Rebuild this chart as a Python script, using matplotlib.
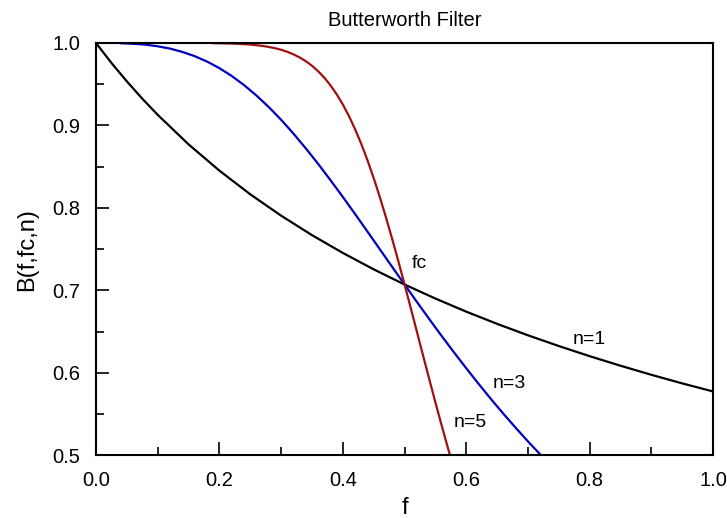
import matplotlib
matplotlib.use('Agg')
import matplotlib.pyplot as plt
from matplotlib.ticker import MultipleLocator

plt.rcParams['font.family'] = ['Liberation Sans', 'DejaVu Sans']

# values
f_n1 = [0.0, 0.025, 0.05, 0.075, 0.1, 0.15, 0.2, 0.25, 0.3, 0.35, 0.4, 0.45, 0.5,
        0.55, 0.6, 0.65, 0.7, 0.75, 0.8, 0.85, 0.9, 0.95, 1.0]
b_n1 = [1.0, 0.9759, 0.9535, 0.9325, 0.9129, 0.8771, 0.8452, 0.8165, 0.7906, 0.7670,
        0.7454, 0.7255, 0.7071, 0.6901, 0.6742, 0.6594, 0.6455, 0.6325, 0.6202,
        0.6086, 0.5976, 0.5872, 0.5774]

f_n3 = [0.04, 0.06, 0.08, 0.10, 0.12, 0.14, 0.16, 0.18, 0.20, 0.22, 0.24, 0.26,
        0.28, 0.30, 0.32, 0.34, 0.36, 0.38, 0.40, 0.42, 0.44, 0.46, 0.48, 0.50,
        0.52, 0.54, 0.56, 0.58, 0.60, 0.62, 0.64, 0.66, 0.68, 0.70, 0.72]
b_n3 = [0.9997, 0.9991, 0.9980, 0.9960, 0.9932, 0.9892, 0.9840, 0.9775, 0.9695,
        0.9600, 0.9489, 0.9363, 0.9223, 0.9069, 0.8901, 0.8722, 0.8534, 0.8336,
        0.8133, 0.7924, 0.7712, 0.7498, 0.7284, 0.7071, 0.6860, 0.6652, 0.6448,
        0.6249, 0.6055, 0.5866, 0.5682, 0.5505, 0.5334, 0.5168, 0.5009]

f_n5 = [0.19, 0.22, 0.24, 0.25, 0.26, 0.27, 0.28, 0.29, 0.30, 0.31, 0.32, 0.33,
        0.34, 0.35, 0.36, 0.37, 0.38, 0.39, 0.40, 0.41, 0.42, 0.43, 0.44, 0.45,
        0.46, 0.47, 0.48, 0.49, 0.50, 0.51, 0.52, 0.53, 0.54, 0.55, 0.56, 0.57, 0.58]
b_n5 = [0.9998, 0.9993, 0.9986, 0.9981, 0.9973, 0.9964, 0.9952, 0.9937, 0.9918,
        0.9893, 0.9862, 0.9825, 0.9779, 0.9724, 0.9657, 0.9579, 0.9486, 0.9378,
        0.9254, 0.9112, 0.8952, 0.8773, 0.8576, 0.8361, 0.8129, 0.7882, 0.7622,
        0.7351, 0.7071, 0.6786, 0.6498, 0.6209, 0.5923, 0.5640, 0.5364, 0.5095, 0.4835]

fig = plt.figure(figsize=(7.27, 5.18), dpi=100)
ax = fig.add_axes([0.132, 0.121, 0.849, 0.796])

ax.plot(f_n1, b_n1, color='black', lw=1.6)
ax.plot(f_n3, b_n3, color='#0000c0', lw=1.6)
ax.plot(f_n5, b_n5, color='#a01010', lw=1.6)

ax.set_xlim(0, 1)
ax.set_ylim(0.5, 1.0)
ax.xaxis.set_major_locator(MultipleLocator(0.2))
ax.xaxis.set_minor_locator(MultipleLocator(0.1))
ax.yaxis.set_major_locator(MultipleLocator(0.1))
ax.yaxis.set_minor_locator(MultipleLocator(0.05))
ax.xaxis.set_major_formatter(plt.FormatStrFormatter('%.1f'))
ax.yaxis.set_major_formatter(plt.FormatStrFormatter('%.1f'))
ax.tick_params(which='both', direction='in', top=False, right=False,
               labelsize=14.5, width=1.2)
ax.tick_params(which='major', length=9.5, pad=11.5)
ax.tick_params(which='minor', length=5.5)
for s in ax.spines.values():
    s.set_linewidth(1.5)

ax.text(0.512, 0.727, 'fc', fontsize=14)
ax.text(0.773, 0.641, 'n=1', fontsize=14, va='center')
ax.text(0.643, 0.587, 'n=3', fontsize=14, va='center')
ax.text(0.579, 0.540, 'n=5', fontsize=14, va='center')

ax.set_title('Butterworth Filter', fontsize=14.5, pad=12)
ax.set_xlabel('f', fontsize=17, labelpad=5)
ax.set_ylabel('B(f,fc,n)', fontsize=17, labelpad=10)

fig.savefig('out.png', dpi=100)
